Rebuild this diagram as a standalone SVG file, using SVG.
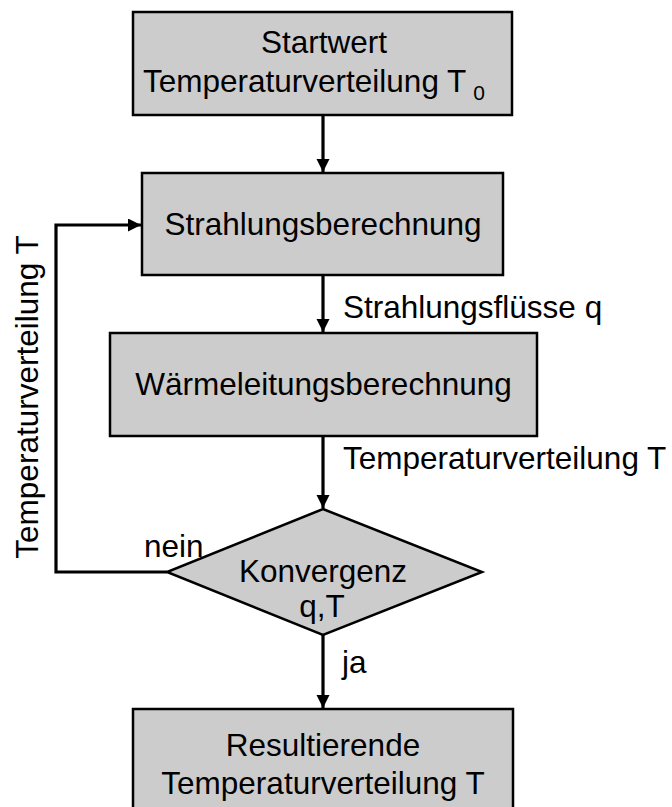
<svg xmlns="http://www.w3.org/2000/svg" width="672" height="807" viewBox="0 0 672 807">
<style>
.box{fill:#cccccc;stroke:#000;stroke-width:2.5}
.t{font-family:"Liberation Sans",Arial,sans-serif;font-size:31.5px;fill:#000}
.c{text-anchor:middle}
.con{fill:none;stroke:#000;stroke-width:3.2}
</style>
<defs>
<marker id="ah" markerUnits="userSpaceOnUse" markerWidth="14" markerHeight="14" refX="13" refY="6.5" orient="auto">
<path d="M0,0 L13,6.5 L0,13 z" fill="#000"/>
</marker>
</defs>
<rect width="672" height="807" fill="#fff"/>
<g id="connectors">
<line class="con" x1="323" y1="115" x2="323" y2="172" marker-end="url(#ah)"/>
<line class="con" x1="323" y1="275" x2="323" y2="332" marker-end="url(#ah)"/>
<line class="con" x1="323" y1="436" x2="323" y2="508" marker-end="url(#ah)"/>
<line class="con" x1="323" y1="635" x2="323" y2="708" marker-end="url(#ah)"/>
<polyline class="con" points="167,572 56,572 56,225 141,225" marker-end="url(#ah)"/>
<text class="t" x="343" y="318">Strahlungsflüsse q</text>
<text class="t" x="343" y="469">Temperaturverteilung T</text>
<text class="t" x="144" y="557">nein</text>
<text class="t" x="342" y="673">ja</text>
<text class="t c" transform="translate(38,397) rotate(-90)">Temperaturverteilung T</text>
</g>
<g id="start">
<rect class="box" x="133" y="12" width="379" height="103"/>
<text class="t c" x="324" y="53">Startwert</text>
<text class="t" x="143" y="92">Temperaturverteilung T<tspan font-size="21" dx="7" dy="8">0</tspan></text>
</g>
<g id="strahlung">
<rect class="box" x="142" y="173" width="361" height="102"/>
<text class="t c" x="323" y="235">Strahlungsberechnung</text>
</g>
<g id="waerme">
<rect class="box" x="110" y="333" width="427" height="103"/>
<text class="t c" x="323.5" y="395">Wärmeleitungsberechnung</text>
</g>
<g id="konvergenz">
<polygon class="box" points="323,509 482,572 323,635 167,572"/>
<text class="t c" x="323" y="582">Konvergenz</text>
<text class="t c" x="322" y="617">q,T</text>
</g>
<g id="result">
<rect class="box" x="133" y="709" width="380" height="110"/>
<text class="t c" x="323" y="756">Resultierende</text>
<text class="t c" x="323" y="794">Temperaturverteilung T</text>
</g>
</svg>
